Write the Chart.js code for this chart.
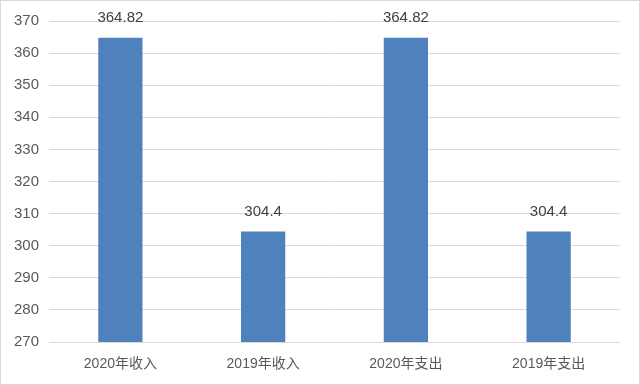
<!DOCTYPE html>
<html>
<head>
  <meta charset="utf-8">
  <title>收支对比</title>
  <script src="https://cdn.jsdelivr.net/npm/chart.js"></script>
  <style>
    html, body { margin: 0; padding: 0; background: #fff; }
    .wrap {
      width: 640px;
      height: 385px;
      box-sizing: border-box;
      border: 1px solid #d9d9d9;
      position: relative;
    }
    .wrap canvas { position: absolute; left: -1px; top: -1px; }
  </style>
</head>
<body>
  <div class="wrap">
    <canvas id="barChart" width="640" height="385"></canvas>
  </div>

  <script>
    // chart data
    const categories = ['2020年收入', '2019年收入', '2020年支出', '2019年支出'];
    const amounts = [364.82, 304.4, 364.82, 304.4];
    const yTicks = [270, 280, 290, 300, 310, 320, 330, 340, 350, 360, 370];

    const fontFamily = '"Liberation Sans", "Noto Sans CJK SC", sans-serif';

    // draws the value above each bar
    const valueLabels = {
      id: 'valueLabels',
      afterDatasetsDraw(chart) {
        const ctx = chart.ctx;
        const meta = chart.getDatasetMeta(0);
        ctx.save();
        ctx.font = '15px ' + fontFamily;
        ctx.fillStyle = '#404040';
        ctx.textAlign = 'center';
        ctx.textBaseline = 'middle';
        meta.data.forEach((bar, i) => {
          ctx.fillText(String(amounts[i]), bar.x, bar.y - 20);
        });
        ctx.restore();
      }
    };

    const chart = new Chart(document.getElementById('barChart'), {
      type: 'bar',
      data: {
        labels: categories,
        datasets: [{
          data: amounts,
          backgroundColor: '#4f81bd',
          borderWidth: 0,
          barPercentage: 0.62,
          categoryPercentage: 0.5
        }]
      },
      options: {
        responsive: false,
        animation: false,
        layout: { padding: { left: 0, right: 20, top: 21, bottom: 0 } },
        plugins: {
          legend: { display: false },
          tooltip: { enabled: false }
        },
        scales: {
          x: {
            grid: { display: false },
            border: { display: false },
            ticks: {
              color: '#595959',
              font: { family: fontFamily, size: 14 },
              padding: 6
            },
            afterFit(scale) { scale.height = 43; }
          },
          y: {
            min: 270,
            max: 370,
            afterBuildTicks(scale) {
              scale.ticks = yTicks.map(v => ({ value: v }));
            },
            grid: { color: '#d9d9d9', drawTicks: false },
            border: { display: false },
            ticks: {
              color: '#595959',
              font: { family: fontFamily, size: 15 },
              padding: 10
            },
            afterFit(scale) { scale.width = 49; }
          }
        }
      },
      plugins: [valueLabels]
    });
  </script>
</body>
</html>
